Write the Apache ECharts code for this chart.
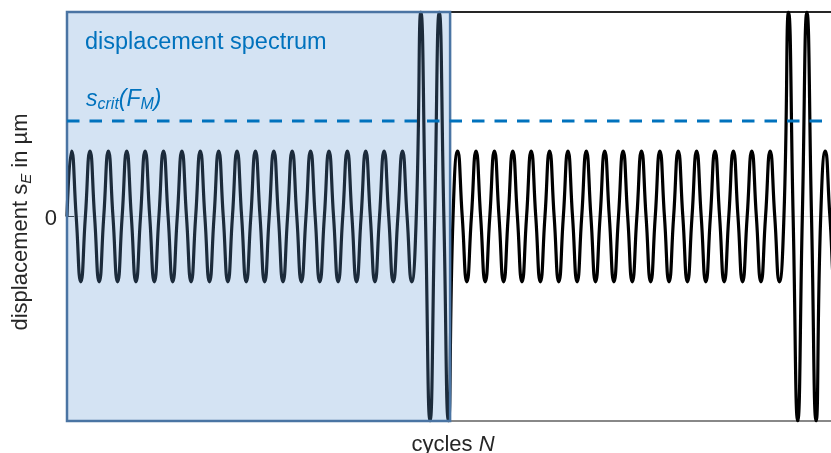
<!DOCTYPE html>
<html>
<head>
    <meta charset="UTF-8">
    <title>displacement spectrum</title>
    <script src="https://cdn.jsdelivr.net/npm/echarts@6/dist/echarts.min.js"></script>
    <style>
        html, body { margin: 0; padding: 0; background: #fff; }
    </style>
</head>
<body>
<div id="chart" style="width: 831px;height:453px;"></div>
<script>
    // peak value of each load cycle (cycle k runs from N=k to N=k+1)
    var cycleAmplitude = [
        0.32, 0.32, 0.32, 0.32, 0.32, 0.32, 0.32, 0.32, 0.32, 0.32,
        0.32, 0.32, 0.32, 0.32, 0.32, 0.32, 0.32, 0.32, 0.32, 1.0,
        1.0, 0.32, 0.32, 0.32, 0.32, 0.32, 0.32, 0.32, 0.32, 0.32,
        0.32, 0.32, 0.32, 0.32, 0.32, 0.32, 0.32, 0.32, 0.32, 1.0,
        1.0, 0.32
    ];
    var critLevel = 0.467;          // s_crit(F_M)
    var spectrumRange = [0, 20.84]; // shaded "displacement spectrum" block
    var cycleRange = [0, 41.56];    // visible part of the N axis
    var dispRange = [-1, 1];

    // extrema + zero crossings of every cycle
    var wave = [];
    cycleAmplitude.forEach(function (a, k) {
        wave.push([k, 0]);
        wave.push([k + 0.25, a]);
        wave.push([k + 0.5, 0]);
        wave.push([k + 0.75, -a]);
    });
    wave.push([cycleAmplitude.length, 0]);

    var txt = '#262626';
    var blue = '#0072bd';
    var font = 'Liberation Sans, Arial, Helvetica, sans-serif';

    var chart = echarts.init(document.getElementById('chart'));
    chart.setOption({
        animation: false,
        grid: { left: 67, right: 0, top: 12, bottom: 32 },
        xAxis: [
            {
                type: 'value', min: cycleRange[0], max: cycleRange[1],
                axisLine: { show: true, onZero: false, lineStyle: { color: '#888', width: 2 } },
                axisTick: { show: false }, axisLabel: { show: false }, splitLine: { show: false }
            },
            {
                type: 'value', position: 'top', min: cycleRange[0], max: cycleRange[1],
                axisLine: { show: true, onZero: false, lineStyle: { color: txt, width: 2 } },
                axisTick: { show: false }, axisLabel: { show: false }, splitLine: { show: false }
            }
        ],
        yAxis: {
            type: 'value', min: dispRange[0], max: dispRange[1], interval: 1,
            axisLine: { show: false },
            axisTick: { show: true, inside: true, length: 7, lineStyle: { color: txt } },
            axisLabel: {
                margin: 10, color: txt, fontSize: 22, fontFamily: font,
                verticalAlign: 'top', lineHeight: 5,
                formatter: function (v) { return v === 0 ? '0' : ''; }
            },
            splitLine: { show: true, lineStyle: { color: '#dcdcdc', width: 1 } }
        },
        series: [
            {
                name: 'displacement', type: 'line', data: wave, z: 2,
                smooth: 0.55, symbol: 'none',
                lineStyle: { color: '#000', width: 3.2 }
            },
            {
                name: 'spectrum', type: 'line', data: [], z: 3, symbol: 'none',
                markArea: {
                    silent: true, z: 3,
                    itemStyle: { color: 'rgba(100,155,212,0.28)', borderColor: '#4a74a3', borderWidth: 2.5 },
                    data: [[
                        { xAxis: spectrumRange[0], yAxis: dispRange[0] },
                        { xAxis: spectrumRange[1], yAxis: dispRange[1] }
                    ]]
                }
            },
            {
                name: 'scrit', type: 'line', z: 4, symbol: 'none',
                data: [[cycleRange[0], critLevel], [cycleRange[1], critLevel]],
                lineStyle: { color: blue, width: 3, type: [12.5, 10] }
            }
        ],
        graphic: [
            {
                type: 'text', x: 85, y: 43, z: 10,
                style: {
                    text: 'displacement spectrum', fill: blue, fontSize: 23.5, fontFamily: font,
                    align: 'left', verticalAlign: 'middle'
                }
            },
            {
                type: 'text', x: 86, y: 100, z: 10,
                style: {
                    text: '{m|s}{s|crit}{m|(F}{s|M}{m|)}', fill: blue, fontSize: 23, fontFamily: font,
                    align: 'left', verticalAlign: 'middle',
                    rich: {
                        m: { fontSize: 23, fontStyle: 'italic', fontFamily: font, fill: blue, lineHeight: 26, verticalAlign: 'middle' },
                        s: { fontSize: 16, fontStyle: 'italic', fontFamily: font, fill: blue, lineHeight: 14, verticalAlign: 'bottom' }
                    }
                }
            },
            {
                type: 'text', x: 21, y: 222, rotation: Math.PI / 2, z: 10,
                style: {
                    text: '{m|displacement s}{s|E}{m| in µm}', fill: txt, fontSize: 22, fontFamily: font,
                    align: 'center', verticalAlign: 'middle',
                    rich: {
                        m: { fontSize: 22, fontFamily: font, fill: txt, lineHeight: 26, verticalAlign: 'middle' },
                        s: { fontSize: 15, fontStyle: 'italic', fontFamily: font, fill: txt, lineHeight: 12, verticalAlign: 'bottom' }
                    }
                }
            },
            {
                type: 'text', x: 453, y: 445, z: 10,
                style: {
                    text: '{m|cycles }{i|N}', fill: txt, fontSize: 22, fontFamily: font,
                    align: 'center', verticalAlign: 'middle',
                    rich: {
                        m: { fontSize: 22, fontFamily: font, fill: txt },
                        i: { fontSize: 22, fontStyle: 'italic', fontFamily: font, fill: txt }
                    }
                }
            }
        ]
    });
</script>
</body>
</html>
